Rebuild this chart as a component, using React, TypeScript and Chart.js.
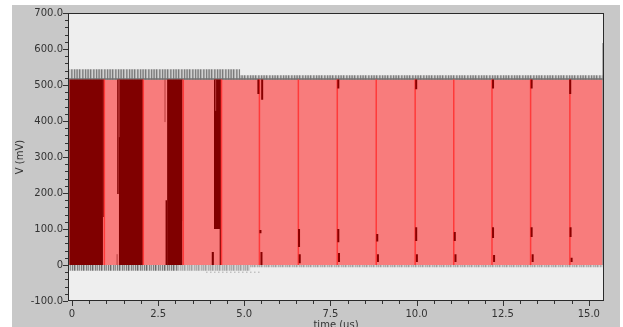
import React, { useEffect, useRef } from 'react';
import { Chart, registerables } from 'chart.js';

Chart.register(...registerables);

// ---- axes ----
const X_MIN = -0.115;
const X_MAX = 15.44;
const Y_MIN = -100;
const Y_MAX = 700;
const X_TICKS = [0, 2.5, 5, 7.5, 10, 12.5, 15];
const Y_TICKS = [-100, 0, 100, 200, 300, 400, 500, 600, 700];
const X_MINOR_STEP = 0.5;
const Y_MINOR_STEP = 20;

// ---- waveform envelope (mV) ----
const HIGH = 515;
const ENV_START = -0.08;
const ENV_END = 15.4;

// overshoot bands
const TOP_BAND_X = [-0.08, 4.88, 4.88, 15.4];
const TOP_BAND_Y = [544, 544, 527, 527];
const BOT_BAND_DARK_X = [-0.08, 3.1];
const BOT_BAND_DARK_Y = [-16, -16];
const BOT_BAND_LIGHT_X = [3.1, 5.17, 5.17, 15.4];
const BOT_BAND_LIGHT_Y = [-16, -16, -6, -6];
const DOTS_X = [3.9, 5.45];
const DOTS_Y = [-20, -20];

// dark red blocks
const DARK_START = [-0.08, 0.9, 1.36, 1.31, 2.76, 2.71, 3.21, 4.12, 4.28, 4.05];
const DARK_END = [0.9, 0.95, 2.07, 1.36, 3.21, 2.76, 3.23, 4.34, 4.34, 4.12];
const DARK_LOW = [0, 133, 0, 197, 0, 0, 122, 100, 0, 0];
const DARK_HIGH = [515, 515, 515, 515, 515, 180, 515, 515, 100, 36];

// bright red edges
const EDGE_X = [0.94, 2.07, 3.23, 4.34, 5.44, 6.57, 7.7, 8.83, 9.96, 11.08, 12.19, 13.31, 14.45];

// short dark glitch marks
const MARK_X = [
  5.47, 6.59, 7.73, 8.86, 9.99, 11.11, 12.22, 13.34, 14.47,
  5.5, 6.61, 7.75, 8.88, 10.01, 11.13, 12.25, 13.37, 14.5,
  5.41, 5.52, 7.73, 9.99, 12.22, 13.34, 14.46,
];
const MARK_LO = [
  88, 50, 63, 65, 67, 67, 75, 78, 78,
  0, 5, 8, 8, 8, 8, 8, 8, 8,
  475, 459, 490, 488, 490, 490, 475,
];
const MARK_HI = [
  97, 100, 100, 86, 105, 92, 105, 105, 105,
  36, 30, 33, 30, 30, 30, 28, 30, 20,
  515, 515, 515, 515, 515, 515, 515,
];

// thin hanging lines
const THIN_X = [2.7, 1.37, 4.17, 1.31];
const THIN_LO = [397, 355, 428, 0];
const THIN_HI = [515, 515, 515, 30];

// end spike
const SPIKE_X = [15.42, 15.42];
const SPIKE_Y = [0, 617];

const fmt = (v: number) => (v === 0 ? '0' : v.toFixed(1));

function makePattern(colors: string[]): CanvasPattern | string {
  const c = document.createElement('canvas');
  c.width = colors.length;
  c.height = 1;
  const g = c.getContext('2d');
  if (!g) return colors[0];
  colors.forEach((col, i) => {
    g.fillStyle = col;
    g.fillRect(i, 0, 1, 1);
  });
  const p = g.createPattern(c, 'repeat');
  return p || colors[0];
}

function segs(xs: number[], los: number[], his: number[]) {
  const out: any[] = [];
  xs.forEach((x, i) => {
    out.push({ x, y: los[i] });
    out.push({ x, y: his[i] });
    out.push({ x, y: null });
  });
  return out;
}

function pts(xs: number[], ys: number[]) {
  return xs.map((x, i) => ({ x, y: ys[i] }));
}

const framePlugin = {
  id: 'frame',
  beforeDraw(chart: any) {
    const { ctx, width, height, chartArea } = chart;
    ctx.save();
    ctx.fillStyle = '#ffffff';
    ctx.fillRect(0, 0, width, height);
    ctx.fillStyle = '#c8c8c8';
    ctx.fillRect(12, 5, 608, height - 5);
    ctx.fillStyle = '#eeeeee';
    ctx.fillRect(chartArea.left, chartArea.top, chartArea.right - chartArea.left, chartArea.bottom - chartArea.top);
    ctx.restore();
  },
  afterDraw(chart: any) {
    const { ctx, chartArea } = chart;
    const xs = chart.scales.x;
    const ys = chart.scales.y;
    ctx.save();
    ctx.strokeStyle = '#2a2a2a';
    ctx.lineWidth = 1;
    ctx.strokeRect(chartArea.left + 0.5, chartArea.top + 0.5, chartArea.right - chartArea.left - 1, chartArea.bottom - chartArea.top - 1);
    ctx.strokeStyle = '#333';
    ctx.beginPath();
    for (let v = Y_MIN; v <= Y_MAX + 1e-6; v += Y_MINOR_STEP) {
      const major = Y_TICKS.some((t) => Math.abs(t - v) < 1e-6);
      const y = Math.round(ys.getPixelForValue(v)) + 0.5;
      ctx.moveTo(chartArea.left - (major ? 5 : 3), y);
      ctx.lineTo(chartArea.left, y);
    }
    for (let v = 0; v <= 15 + 1e-6; v += X_MINOR_STEP) {
      const major = X_TICKS.some((t) => Math.abs(t - v) < 1e-6);
      const x = Math.round(xs.getPixelForValue(v)) + 0.5;
      ctx.moveTo(x, chartArea.bottom);
      ctx.lineTo(x, chartArea.bottom + (major ? 5 : 3));
    }
    ctx.stroke();
    ctx.fillStyle = '#333';
    ctx.font = '10px "DejaVu Sans"';
    ctx.textAlign = 'center';
    ctx.textBaseline = 'alphabetic';
    ctx.fillText('time (us)', (chartArea.left + chartArea.right) / 2, 327.5);
    ctx.translate(20, (chartArea.top + chartArea.bottom) / 2);
    ctx.rotate(-Math.PI / 2);
    ctx.textBaseline = 'middle';
    ctx.fillText('V (mV)', 0, 0);
    ctx.restore();
  },
};

export default function App() {
  const ref = useRef<HTMLCanvasElement | null>(null);

  useEffect(() => {
    document.body.style.margin = '0';
    const canvas = ref.current;
    if (!canvas) return;

    const topPattern = makePattern(['#8e8e8e', '#c8c8c8', '#7a7a7a', '#b0b0b0', '#d2d2d2', '#8a8a8a', '#a4a4a4', '#cdcdcd', '#7e7e7e', '#bababa', '#9c9c9c']);
    const botDark = makePattern(['#7c7c7c', '#c4c4c4', '#6a6a6a', '#a8a8a8', '#cfcfcf', '#808080', '#b6b6b6', '#909090', '#d0d0d0']);
    const botLight = makePattern(['#acacac', '#cccccc', '#a0a0a0', '#c0c0c0', '#d6d6d6', '#b0b0b0', '#c6c6c6']);

    const PINK = '#f87c7c';
    const DARK = '#800000';

    const layers: any[] = [];
    const base = { pointRadius: 0, borderWidth: 0, tension: 0, showLine: true };

    layers.push({ ...base, data: pts(TOP_BAND_X, TOP_BAND_Y), fill: { value: HIGH - 2 }, backgroundColor: topPattern, borderColor: 'rgba(0,0,0,0)' });
    layers.push({ ...base, data: pts(BOT_BAND_DARK_X, BOT_BAND_DARK_Y), fill: { value: 0 }, backgroundColor: botDark, borderColor: 'rgba(0,0,0,0)' });
    layers.push({ ...base, data: pts(BOT_BAND_LIGHT_X, BOT_BAND_LIGHT_Y), fill: { value: 0 }, backgroundColor: botLight, borderColor: 'rgba(0,0,0,0)' });
    layers.push({ ...base, data: pts(DOTS_X, DOTS_Y), fill: false, borderColor: '#8a8a8a', borderWidth: 1, borderDash: [1, 3] });
    layers.push({ ...base, data: pts([ENV_START, ENV_END], [HIGH, HIGH]), fill: { value: 0 }, backgroundColor: PINK, borderColor: 'rgba(0,0,0,0)' });
    layers.push({ ...base, data: pts([ENV_START, ENV_END], [HIGH + 1.5, HIGH + 1.5]), fill: false, borderColor: '#707070', borderWidth: 1.5 });
    DARK_START.forEach((s, i) => {
      layers.push({ ...base, data: pts([s, DARK_END[i]], [DARK_HIGH[i], DARK_HIGH[i]]), fill: { value: DARK_LOW[i] }, backgroundColor: DARK, borderColor: 'rgba(0,0,0,0)' });
    });
    layers.push({ ...base, data: segs(EDGE_X, EDGE_X.map(() => 0), EDGE_X.map(() => HIGH)), fill: false, borderColor: '#ff3a3a', borderWidth: 1.5 });
    layers.push({ ...base, data: segs(THIN_X, THIN_LO, THIN_HI), fill: false, borderColor: '#b83a3a', borderWidth: 1 });
    layers.push({ ...base, data: segs(MARK_X, MARK_LO, MARK_HI), fill: false, borderColor: '#8a0000', borderWidth: 2 });
    layers.push({ ...base, data: pts(SPIKE_X, SPIKE_Y), fill: false, borderColor: '#606060', borderWidth: 1.5 });

    const n = layers.length;
    layers.forEach((d, i) => { d.order = n - i; });

    const tickFont = { family: 'DejaVu Sans', size: 10 };

    const chart = new Chart(canvas, {
      type: 'line',
      data: { datasets: layers },
      options: {
        animation: false,
        responsive: false,
        devicePixelRatio: 1,
        events: [],
        layout: { padding: { left: 0, top: 13, right: 19, bottom: 0 } },
        plugins: { legend: { display: false }, tooltip: { enabled: false } },
        scales: {
          x: {
            type: 'linear',
            min: X_MIN,
            max: X_MAX,
            afterFit: (s: any) => { s.height = 26; },
            afterBuildTicks: (s: any) => { s.ticks = X_TICKS.map((v) => ({ value: v })); },
            ticks: { callback: (v: any) => fmt(Number(v)), font: tickFont, color: '#333', padding: 2, maxRotation: 0, autoSkip: false },
            grid: { drawOnChartArea: false, tickLength: 5, tickColor: 'rgba(0,0,0,0)' },
            border: { display: false },
          },
          y: {
            type: 'linear',
            min: Y_MIN,
            max: Y_MAX,
            afterFit: (s: any) => { s.width = 68; },
            afterBuildTicks: (s: any) => { s.ticks = Y_TICKS.map((v) => ({ value: v })); },
            ticks: { callback: (v: any) => fmt(Number(v)), font: tickFont, color: '#333', padding: 0, autoSkip: false },
            grid: { drawOnChartArea: false, tickLength: 5, tickColor: 'rgba(0,0,0,0)' },
            border: { display: false },
          },
        },
      } as any,
      plugins: [framePlugin],
    });

    return () => chart.destroy();
  }, []);

  return <canvas ref={ref} width={623} height={327} style={{ display: 'block' }} />;
}
